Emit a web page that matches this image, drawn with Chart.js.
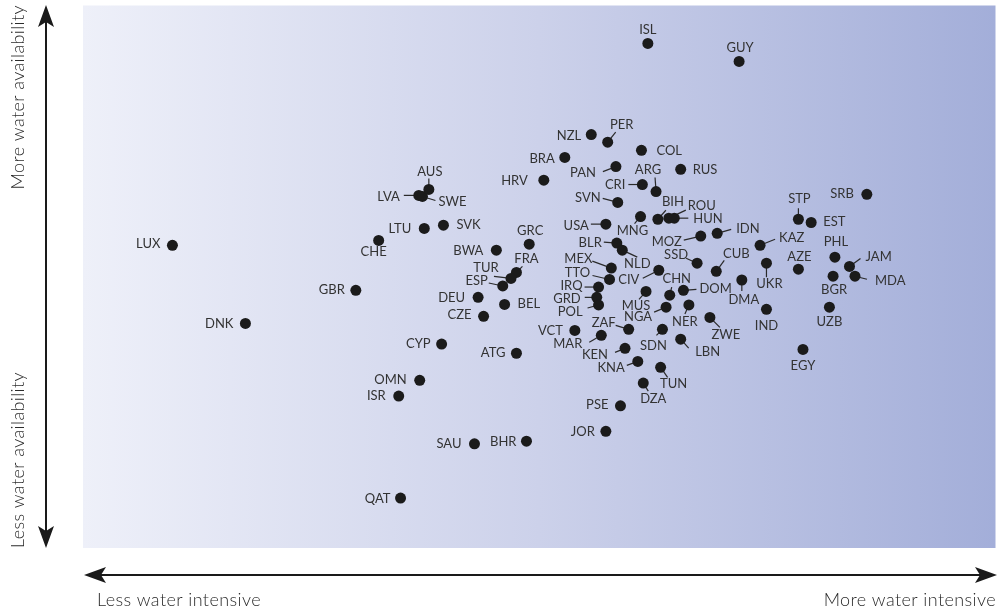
<!DOCTYPE html>
<html>
<head>
<meta charset="utf-8">
<script src="https://cdn.jsdelivr.net/npm/chart.js@4/dist/chart.umd.min.js"></script>
<style>
  html, body { margin: 0; padding: 0; background: #ffffff; }
  canvas { display: block; }
</style>
</head>
<body>
<canvas id="waterChart" width="1001" height="611"></canvas>
<script>
// country codes and index values (0-100)
const codes = ['LUX','DNK','GBR','CHE','LTU','SVK','LVA','SWE','AUS','ISL','GUY','NZL','PER','COL','BRA','PAN','RUS','HRV','CRI','ARG','SVN','USA','MNG','BIH','ROU','HUN','GRC','BWA','BLR','NLD','MOZ','IDN','SSD','CUB','KAZ','STP','EST','SRB','PHL','AZE','JAM','MDA','BGR','UKR','DMA','IND','UZB','EGY','FRA','TUR','ESP','DEU','BEL','CZE','MEX','TTO','CIV','CHN','IRQ','GRD','POL','MUS','DOM','NGA','NER','ZWE','ZAF','VCT','MAR','SDN','LBN','KEN','KNA','TUN','DZA','PSE','JOR','CYP','ATG','OMN','ISR','SAU','BHR','QAT'];

const waterIntensity = [9.8,17.8,29.9,32.4,37.4,39.5,36.8,37.2,37.9,61.9,71.9,55.7,57.5,61.2,52.8,58.4,65.5,50.5,61.3,62.8,58.6,57.3,61.1,63.0,64.2,64.8,48.9,45.3,58.5,59.1,67.7,69.5,67.3,69.4,74.2,78.4,79.8,85.9,82.4,78.4,84.0,84.6,82.2,74.9,72.2,74.9,81.8,78.9,47.5,46.9,46.0,43.3,46.2,43.9,57.9,57.7,63.1,64.3,56.5,56.3,56.5,61.7,65.8,63.9,66.4,68.7,59.8,53.9,56.8,63.5,65.5,59.4,60.8,63.3,61.4,58.9,57.3,39.3,47.5,36.9,34.6,42.9,48.6,34.8];

const waterAvailability = [55.8,41.4,47.5,56.7,58.9,59.5,65.0,64.8,66.1,93.0,89.7,76.2,74.8,73.3,72.0,70.3,69.8,67.8,67.0,65.7,63.7,59.7,61.1,60.6,60.8,60.8,56.0,54.9,56.2,54.9,57.5,58.0,52.5,51.0,55.8,60.6,60.0,65.2,53.6,51.4,51.9,50.1,50.1,52.5,49.4,44.0,44.4,36.6,50.8,49.7,48.3,46.2,44.9,42.7,51.6,49.5,51.2,46.6,48.1,46.2,44.8,47.3,47.5,44.4,44.8,42.5,40.3,40.1,39.2,40.3,38.5,36.8,34.4,33.3,30.4,26.2,21.5,37.6,35.9,30.9,28.0,19.2,19.7,9.2];

const axisLabels = {
  yTop: 'More water availability',
  yBottom: 'Less water availability',
  xLeft: 'Less water intensive',
  xRight: 'More water intensive'
};

// label placement: align, dx, dy (from dot, px), optional leader end dx, dy
const labelPlace = {
  LUX:['r',-12,-2], DNK:['r',-12,0], GBR:['r',-11,-1], CHE:['c',-5,11],
  LTU:['r',-13,0], SVK:['l',13,-1], LVA:['r',-19,1,-15,0], SWE:['l',16,5,13,4],
  AUS:['c',1,-18,0,-11], ISL:['c',0,-14], GUY:['c',1,-14], NZL:['r',-10,1],
  PER:['c',14,-18,8,-10], COL:['l',15,0], BRA:['r',-10,1], PAN:['r',-20,6,-13,5],
  RUS:['l',12,0], HRV:['r',-16,0], CRI:['r',-17,0,-14,0], ARG:['c',-8,-22,-1,-14],
  SVN:['r',-17,-5,-15,-4], USA:['r',-17,1,-15,0], MNG:['c',-8,14,-6,7],
  BIH:['c',15,-18,8,-9], ROU:['c',33,-13,17,-8], HUN:['l',19,0,14,0],
  GRC:['c',1,-14], BWA:['r',-13,0], BLR:['r',-15,-1,-13,-1], NLD:['c',15,13,15,7],
  MOZ:['c',-34,5,-17,4], IDN:['l',19,-5,14,-4], SSD:['c',-21,-9,-11,-5],
  CUB:['c',20,-18,8,-11], KAZ:['l',19,-8,15,-6], STP:['c',1,-21,0,-11],
  EST:['l',12,-1], SRB:['r',-13,-1], PHL:['c',1,-16], AZE:['c',1,-13],
  JAM:['l',16,-10,11,-8], MDA:['l',20,4,12,3], BGR:['c',1,13], UKR:['c',3,20,0,14],
  DMA:['c',2,19,0,11], IND:['c',0,16], UZB:['c',0,14], EGY:['c',0,16],
  FRA:['c',10,-14,6,-6], TUR:['c',-25,-11,-17,-2], ESP:['r',-15,-6,-14,-3],
  DEU:['r',-13,0], BEL:['l',13,-1], CZE:['r',-12,-2], MEX:['c',-33,-10,-19,-7],
  TTO:['c',-32,-7,-17,-4], CIV:['c',-30,9,-16,8], CHN:['c',7,-17,2,-8],
  IRQ:['r',-16,-2,-14,0], GRD:['r',-16,1,-12,0], POL:['r',-16,6,-11,3],
  MUS:['c',-10,14,-7,8], DOM:['l',16,-2,13,-1], NGA:['c',-28,9,-12,5],
  NER:['c',-4,16,-4,9], ZWE:['c',16,17,10,10], ZAF:['c',-25,-7,-13,-4],
  VCT:['r',-12,0], MAR:['r',-19,8,-12,7], SDN:['c',-9,16,-6,6], LBN:['c',27,12,8,9],
  KEN:['r',-17,6,-10,4], KNA:['r',-13,6,-11,4], TUN:['c',13,16,7,10],
  DZA:['c',10,15,5,8], PSE:['r',-12,-2], JOR:['r',-11,0], CYP:['r',-11,-1],
  ATG:['r',-11,-1], OMN:['r',-13,-1], ISR:['r',-13,-1], SAU:['r',-13,-1],
  BHR:['r',-10,0], QAT:['r',-10,0]
};

const points = codes.map((c, i) => ({ x: waterIntensity[i], y: waterAvailability[i] }));

// gradient panel + leader lines under the dots
const panelPlugin = {
  id: 'panel',
  beforeDatasetsDraw(chart) {
    const { ctx, chartArea: a } = chart;
    const g = ctx.createLinearGradient(a.left, 0, a.right, 0);
    g.addColorStop(0, '#eef0f9');
    g.addColorStop(0.5, '#ccd1ea');
    g.addColorStop(1, '#a3aed9');
    ctx.save();
    ctx.fillStyle = g;
    ctx.fillRect(a.left, a.top, a.right - a.left, a.bottom - a.top);

    const meta = chart.getDatasetMeta(0);
    ctx.strokeStyle = '#2a2a2a';
    ctx.lineWidth = 1.2;
    codes.forEach((c, i) => {
      const p = labelPlace[c];
      if (!p || p.length < 5) return;
      const el = meta.data[i];
      ctx.beginPath();
      ctx.moveTo(el.x, el.y);
      ctx.lineTo(el.x + p[3], el.y + p[4]);
      ctx.stroke();
    });
    ctx.restore();
  },
  afterDatasetsDraw(chart) {
    const { ctx } = chart;
    const meta = chart.getDatasetMeta(0);
    ctx.save();
    ctx.font = '13px Lato, "Noto Sans", sans-serif';
    ctx.fillStyle = '#333333';
    ctx.textBaseline = 'alphabetic';
    codes.forEach((c, i) => {
      const p = labelPlace[c] || ['l', 10, 0];
      const el = meta.data[i];
      ctx.textAlign = p[0] === 'r' ? 'right' : p[0] === 'l' ? 'left' : 'center';
      ctx.fillText(c, el.x + p[1], el.y + p[2] + 4.7);
    });
    ctx.restore();
  },
  afterDraw(chart) {
    const { ctx } = chart;
    ctx.save();
    ctx.fillStyle = '#1a1a1a';
    ctx.strokeStyle = '#1a1a1a';
    ctx.lineWidth = 2;

    // vertical arrow
    const vx = 46, vTop = 5, vBot = 548;
    ctx.beginPath(); ctx.moveTo(vx, vTop + 10); ctx.lineTo(vx, vBot - 10); ctx.stroke();
    ctx.beginPath();
    ctx.moveTo(vx, vTop); ctx.lineTo(vx + 8, vTop + 22); ctx.lineTo(vx, vTop + 17); ctx.lineTo(vx - 8, vTop + 22);
    ctx.closePath(); ctx.fill();
    ctx.beginPath();
    ctx.moveTo(vx, vBot); ctx.lineTo(vx + 8, vBot - 22); ctx.lineTo(vx, vBot - 17); ctx.lineTo(vx - 8, vBot - 22);
    ctx.closePath(); ctx.fill();

    // horizontal arrow
    const hy = 575, hL = 84, hR = 997;
    ctx.beginPath(); ctx.moveTo(hL + 10, hy); ctx.lineTo(hR - 10, hy); ctx.stroke();
    ctx.beginPath();
    ctx.moveTo(hL, hy); ctx.lineTo(hL + 22, hy - 8); ctx.lineTo(hL + 17, hy); ctx.lineTo(hL + 22, hy + 8);
    ctx.closePath(); ctx.fill();
    ctx.beginPath();
    ctx.moveTo(hR, hy); ctx.lineTo(hR - 22, hy - 8); ctx.lineTo(hR - 17, hy); ctx.lineTo(hR - 22, hy + 8);
    ctx.closePath(); ctx.fill();

    // axis texts
    ctx.fillStyle = '#2b2b2b';
    ctx.font = '300 18px Lato, "Noto Sans", sans-serif';
    ctx.letterSpacing = '0.4px';
    ctx.textBaseline = 'middle';
    ctx.save();
    ctx.translate(18, 5); ctx.rotate(-Math.PI / 2);
    ctx.textAlign = 'right';
    ctx.fillText(axisLabels.yTop, 0, 0);
    ctx.restore();
    ctx.save();
    ctx.translate(18, 548); ctx.rotate(-Math.PI / 2);
    ctx.textAlign = 'left';
    ctx.fillText(axisLabels.yBottom, 0, 0);
    ctx.restore();

    ctx.textBaseline = 'alphabetic';
    ctx.textAlign = 'left';
    ctx.fillText(axisLabels.xLeft, 97, 606);
    ctx.textAlign = 'right';
    ctx.fillText(axisLabels.xRight, 996, 606);
    ctx.restore();
  }
};

new Chart(document.getElementById('waterChart'), {
  type: 'scatter',
  data: {
    datasets: [{
      data: points,
      backgroundColor: '#1b1b1b',
      borderWidth: 0,
      pointRadius: 5.5,
      pointHoverRadius: 5.5
    }]
  },
  options: {
    responsive: false,
    animation: false,
    devicePixelRatio: 1,
    layout: { padding: { left: 83, top: 5, right: 4, bottom: 63 } },
    plugins: { legend: { display: false }, tooltip: { enabled: false } },
    scales: {
      x: { type: 'linear', min: 0, max: 100, display: false },
      y: { type: 'linear', min: 0, max: 100, display: false }
    }
  },
  plugins: [panelPlugin]
});
</script>
</body>
</html>
